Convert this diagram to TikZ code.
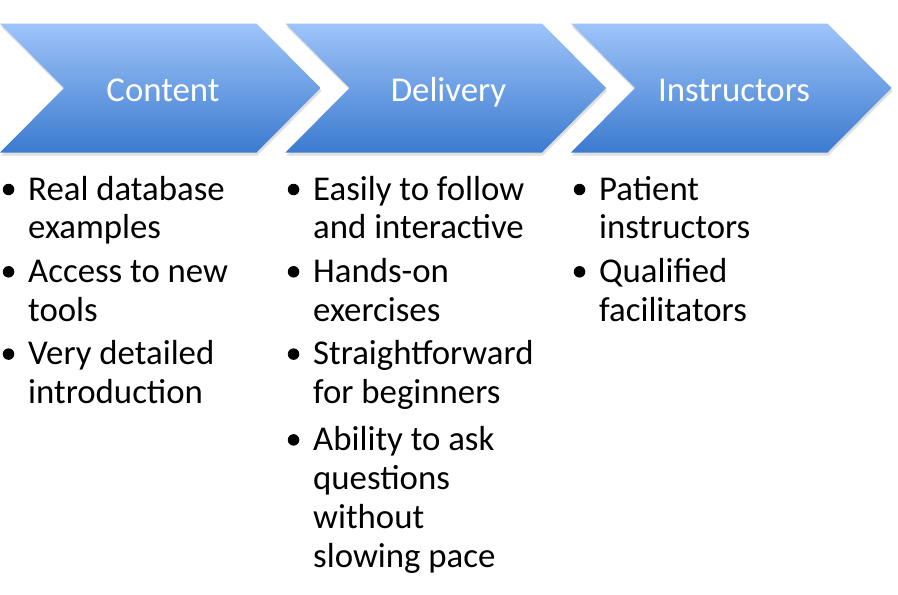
\documentclass[tikz,border=0pt]{standalone}
\usepackage{fontspec}
\setmainfont{Carlito}
\usetikzlibrary{positioning,shadows}
\definecolor{chevtop}{RGB}{158,196,250}
\definecolor{chevbot}{RGB}{60,123,207}

\begin{document}
\begin{tikzpicture}[x=1pt,y=-1pt]

  \tikzset{chevron/.style={top color=chevtop, bottom color=chevbot,
  		drop shadow={opacity=0.25, shadow xshift=1pt, shadow yshift=-3pt}}, }
  \tikzset{head/.style={font=\fontsize{34.8}{38.5}\selectfont, text=white, anchor=base}, }
  \tikzset{itemtxt/.style={font=\fontsize{34.8}{38.5}\selectfont, inner sep=0pt,
  		text height=27pt, text depth=11.5pt}, }
  \tikzset{dot/.style={circle, fill, inner sep=0pt, minimum size=11.5pt}, }
\useasboundingbox (0,0) rectangle (898,595);
\foreach \x/\nm/\t in {0/c1/Content,285.5/c2/Delivery,571/c3/Instructors}{
  \path[chevron] (\x,23.5) -- ++(256.5,0) -- ++(64,64.5) -- ++(-64,64.5)
    -- ++(-256.5,0) -- ++(64,-64.5) -- cycle;
  \node[head] (\nm) at (\x+163,101) {\t};
}
%% Content
\node[itemtxt, anchor=base west] (a1) at (28,200) {Real database};
\node[itemtxt] (a2) [below=0pt of a1.south west, anchor=north west] {examples};
\node[itemtxt] (a3) [below=4.5pt of a2.south west, anchor=north west] {Access to new};
\node[itemtxt] (a4) [below=0pt of a3.south west, anchor=north west] {tools};
\node[itemtxt] (a5) [below=4.5pt of a4.south west, anchor=north west] {Very detailed};
\node[itemtxt] (a6) [below=0pt of a5.south west, anchor=north west] {introduction};
%% Delivery
\node[itemtxt, anchor=base west] (b1) at (313,200) {Easily to follow};
\node[itemtxt] (b2) [below=0pt of b1.south west, anchor=north west] {and interactive};
\node[itemtxt] (b3) [below=4.5pt of b2.south west, anchor=north west] {Hands-on};
\node[itemtxt] (b4) [below=0pt of b3.south west, anchor=north west] {exercises};
\node[itemtxt] (b5) [below=4.5pt of b4.south west, anchor=north west] {Straightforward};
\node[itemtxt] (b6) [below=0pt of b5.south west, anchor=north west] {for beginners};
\node[itemtxt] (b7) [below=8pt of b6.south west, anchor=north west] {Ability to ask};
\node[itemtxt] (b8) [below=0pt of b7.south west, anchor=north west] {questions};
\node[itemtxt] (b9) [below=0pt of b8.south west, anchor=north west] {without};
\node[itemtxt] (b10) [below=0pt of b9.south west, anchor=north west] {slowing pace};
%% Instructors
\node[itemtxt, anchor=base west] (r1) at (599,200) {Patient};
\node[itemtxt] (r2) [below=0pt of r1.south west, anchor=north west] {instructors};
\node[itemtxt] (r3) [below=4.5pt of r2.south west, anchor=north west] {Qualified};
\node[itemtxt] (r4) [below=0pt of r3.south west, anchor=north west] {facilitators};
\foreach \m in {a1,a3,a5,b1,b3,b5,b7,r1,r3}
  \node[dot] (d\m) [left=13.5pt of \m.base west, yshift=10.5pt] {};
%%
\end{tikzpicture}
\end{document}
